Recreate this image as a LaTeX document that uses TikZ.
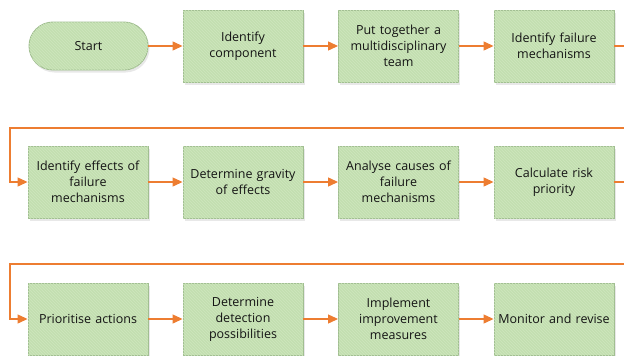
\documentclass[tikz,border=0pt]{standalone}
\usepackage{fontspec}
\setmainfont{Open Sans}
\usetikzlibrary{arrows.meta,patterns,shadows,calc}
\definecolor{boxfill}{HTML}{C3DFB0}
\definecolor{boxline}{HTML}{A0BD90}
\definecolor{boxhatch}{HTML}{CEE6BE}
\definecolor{flowline}{HTML}{ED7D31}
\tikzset{
  stepbox/.style={draw=boxline, line width=0.9pt, fill=boxfill,
    minimum width=120pt, minimum height=72pt, text width=112pt,
    align=center, inner sep=2pt, font=\fontsize{12.5}{16}\selectfont,
    text=black!92,
    drop shadow={opacity=0.18, shadow xshift=1.5pt, shadow yshift=-2.5pt},
    postaction={pattern=north west lines, pattern color=boxhatch}},
  startbox/.style={stepbox, minimum width=119pt, minimum height=48pt,
    text width=100pt, rounded corners=24pt},
  flow/.style={draw=flowline, line width=1.2pt,
    -{Triangle[length=10pt,width=9pt]}},
  wrap/.style={draw=flowline, line width=1.2pt}
}
\begin{document}
\begin{tikzpicture}[x=1pt,y=-1pt]
\useasboundingbox (0,0) rectangle (624,356);
% row 1
\node[startbox] (start) at (88.5,46) {Start};
\node[stepbox] (a1) at (243,46) {Identify\\component};
\node[stepbox] (a2) at (398.5,46) {Put together a\\multidisciplinary\\team};
\node[stepbox] (a3) at (554,46) {Identify failure\\mechanisms};
% row 2
\node[stepbox] (b1) at (88,182) {Identify effects of\\failure\\mechanisms};
\node[stepbox] (b2) at (243,182) {Determine gravity\\of effects};
\node[stepbox] (b3) at (398.5,182) {Analyse causes of\\failure\\mechanisms};
\node[stepbox] (b4) at (554,182) {Calculate risk\\priority};
% row 3
\node[stepbox] (c1) at (88,319) {Prioritise actions};
\node[stepbox] (c2) at (243,319) {Determine\\detection\\possibilities};
\node[stepbox] (c3) at (398.5,319) {Implement\\improvement\\measures};
\node[stepbox] (c4) at (554,319) {Monitor and revise};
% wrap-around points at the page edges
\coordinate (out1) at (626,46);
\coordinate (in2) at (626,128);
\coordinate (turn2) at (10,128);
\coordinate (out2) at (626,182);
\coordinate (in3) at (626,264);
\coordinate (turn3) at (10,264);
% connectors
\draw[flow] (start) -- (a1);
\draw[flow] (a1) -- (a2);
\draw[flow] (a2) -- (a3);
\draw[wrap] (a3) -- (out1);
\draw[flow] (in2) -- (turn2) |- (b1.west);
\draw[flow] (b1) -- (b2);
\draw[flow] (b2) -- (b3);
\draw[flow] (b3) -- (b4);
\draw[wrap] (b4) -- (out2);
\draw[flow] (in3) -- (turn3) |- (c1.west);
\draw[flow] (c1) -- (c2);
\draw[flow] (c2) -- (c3);
\draw[flow] (c3) -- (c4);
\end{tikzpicture}
\end{document}
